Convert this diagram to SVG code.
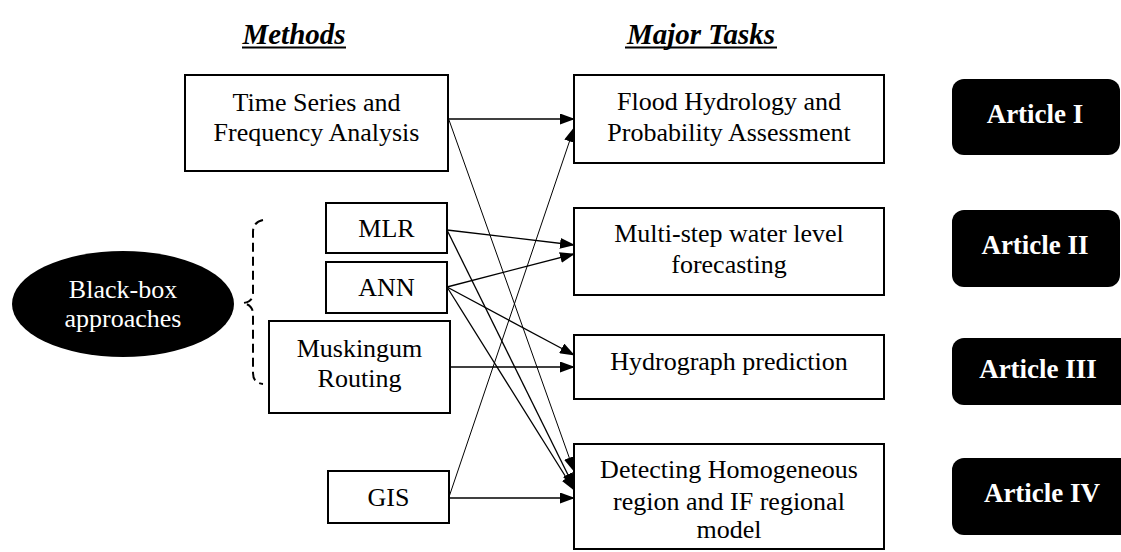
<svg xmlns="http://www.w3.org/2000/svg" width="1121" height="552" viewBox="0 0 1121 552">
  <style>
    .box { fill: #fff; stroke: #000; stroke-width: 2; }
    .t { font-family: "Liberation Serif", "Times New Roman", serif; font-size: 26px; fill: #000; text-anchor: middle; }
    .hd { font-family: "Liberation Serif", "Times New Roman", serif; font-size: 29px; font-weight: bold; font-style: italic; fill: #000; text-anchor: middle; }
    .art { fill: #000; }
    .at { font-family: "Liberation Serif", "Times New Roman", serif; font-size: 27px; font-weight: bold; fill: #fff; text-anchor: middle; }
    .wt { font-family: "Liberation Serif", "Times New Roman", serif; font-size: 26px; fill: #fff; text-anchor: middle; }
    .edge { stroke: #000; stroke-width: 1.3; fill: none; marker-end: url(#arrow); }
    .thin { stroke-width: 1; }
  </style>
  <defs>
    <marker id="arrow" markerUnits="userSpaceOnUse" markerWidth="15" markerHeight="11" refX="14" refY="5.5" orient="auto">
      <path d="M0,0 L15,5.5 L0,11 Z" fill="#000"/>
    </marker>
  </defs>

  <rect width="1121" height="552" fill="#fff"/>

  <!-- column headings -->
  <g id="heading-methods">
    <text class="hd" x="294" y="44">Methods</text>
    <line x1="242" y1="47.5" x2="346" y2="47.5" stroke="#000" stroke-width="2"/>
  </g>
  <g id="heading-tasks">
    <text class="hd" x="701" y="44">Major Tasks</text>
    <line x1="625" y1="47.5" x2="777" y2="47.5" stroke="#000" stroke-width="2"/>
  </g>

  <!-- connectors -->
  <g id="connectors">
    <line class="edge" x1="448" y1="119" x2="574" y2="119"/>
    <line class="edge thin" x1="449" y1="120" x2="574" y2="471"/>
    <line class="edge" x1="447" y1="230" x2="574" y2="245"/>
    <line class="edge" x1="447" y1="230" x2="574" y2="487"/>
    <line class="edge" x1="447" y1="287" x2="574" y2="254"/>
    <line class="edge" x1="447" y1="287" x2="574" y2="355"/>
    <line class="edge" x1="447" y1="287" x2="574" y2="490"/>
    <line class="edge" x1="450" y1="367" x2="574" y2="367"/>
    <line class="edge thin" x1="449" y1="497" x2="574" y2="128"/>
    <line class="edge" x1="449" y1="498" x2="574" y2="498"/>
  </g>

  <!-- methods -->
  <g id="node-timeseries">
    <rect class="box" x="185" y="75" width="263" height="96"/>
    <text class="t" x="316.5" y="111">Time Series and</text>
    <text class="t" x="316.5" y="141">Frequency Analysis</text>
  </g>
  <g id="node-mlr">
    <rect class="box" x="326" y="203" width="121" height="50"/>
    <text class="t" x="386.5" y="237">MLR</text>
  </g>
  <g id="node-ann">
    <rect class="box" x="326" y="262" width="121" height="51"/>
    <text class="t" x="386.5" y="296">ANN</text>
  </g>
  <g id="node-muskingum">
    <rect class="box" x="269" y="321" width="181" height="92"/>
    <text class="t" x="359.5" y="357">Muskingum</text>
    <text class="t" x="359.5" y="387">Routing</text>
  </g>
  <g id="node-gis">
    <rect class="box" x="328" y="471" width="121" height="52"/>
    <text class="t" x="388.5" y="506">GIS</text>
  </g>

  <!-- black-box grouping -->
  <g id="node-blackbox">
    <ellipse cx="123" cy="304" rx="111" ry="53" fill="#000"/>
    <text class="wt" x="123" y="298">Black-box</text>
    <text class="wt" x="123" y="327">approaches</text>
  </g>
  <g id="brace">
    <path d="M263,220 Q253,222 253,232 L253,293 Q253,302 243,303 Q253,305 253,314 L253,373 Q253,383 263,384" fill="none" stroke="#000" stroke-width="2" stroke-dasharray="9,5"/>
  </g>

  <!-- tasks -->
  <g id="node-flood">
    <rect class="box" x="574" y="75" width="310" height="88"/>
    <text class="t" x="729" y="110">Flood Hydrology and</text>
    <text class="t" x="729" y="141">Probability Assessment</text>
  </g>
  <g id="node-multistep">
    <rect class="box" x="574" y="208" width="310" height="87"/>
    <text class="t" x="729" y="242">Multi-step water level</text>
    <text class="t" x="729" y="273">forecasting</text>
  </g>
  <g id="node-hydrograph">
    <rect class="box" x="574" y="335" width="310" height="64"/>
    <text class="t" x="729" y="370">Hydrograph prediction</text>
  </g>
  <g id="node-detecting">
    <rect class="box" x="574" y="444" width="310" height="105"/>
    <text class="t" x="729" y="478">Detecting Homogeneous</text>
    <text class="t" x="729" y="510">region and IF regional</text>
    <text class="t" x="729" y="538">model</text>
  </g>

  <!-- article labels -->
  <g id="article-1">
    <rect class="art" x="952" y="79" width="168" height="76" rx="12"/>
    <text class="at" x="1035" y="123">Article I</text>
  </g>
  <g id="article-2">
    <rect class="art" x="952" y="210" width="168" height="77" rx="12"/>
    <text class="at" x="1035" y="254">Article II</text>
  </g>
  <g id="article-3">
    <rect class="art" x="952" y="338" width="180" height="67" rx="12"/>
    <text class="at" x="1038" y="378">Article III</text>
  </g>
  <g id="article-4">
    <rect class="art" x="952" y="458" width="180" height="77" rx="12"/>
    <text class="at" x="1042" y="502">Article IV</text>
  </g>
</svg>
